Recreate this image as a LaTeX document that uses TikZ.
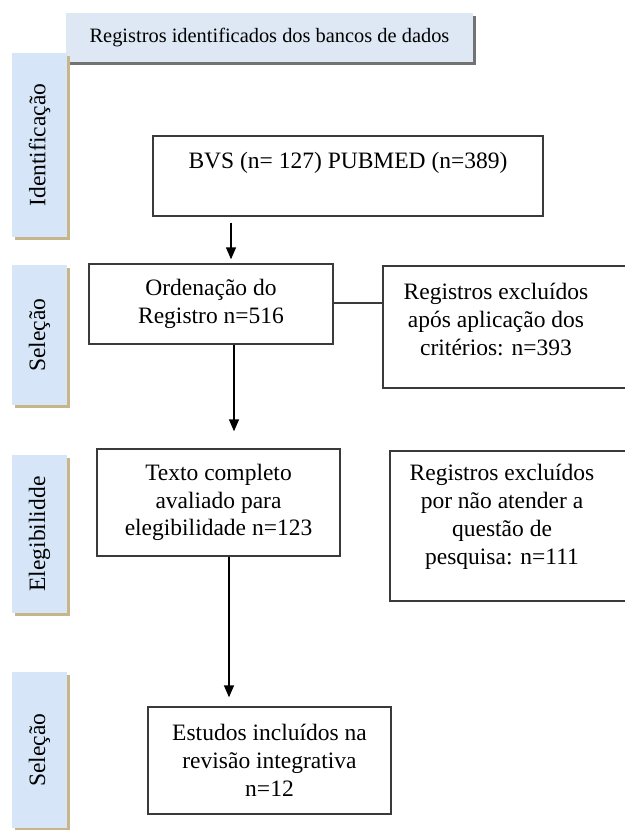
\documentclass[tikz,border=0pt]{standalone}
\usepackage{fontspec}
\setmainfont{Liberation Serif}
\usetikzlibrary{arrows.meta,shadows}
\definecolor{lblfill}{HTML}{D6E6F8}
\definecolor{hdrfill}{HTML}{DDE8F4}
\definecolor{tanshadow}{HTML}{C6B68A}
\definecolor{boxline}{HTML}{3A3A3A}
\begin{document}
\begin{tikzpicture}[x=1pt,y=-1pt,
  bigfont/.style={font=\fontsize{23.5}{27.8}\selectfont},
  box/.style={draw=boxline, line width=1.4pt, inner sep=0pt, align=center, bigfont},
  txt/.style={inner sep=0pt, align=center, bigfont},
  side/.style={fill=lblfill, inner sep=0pt, minimum width=55pt, bigfont,
    drop shadow={shadow xshift=3pt, shadow yshift=-3pt, fill=tanshadow, opacity=1}},
  hdr/.style={fill=hdrfill, inner sep=0pt, minimum width=407pt, minimum height=49pt,
    font=\fontsize{20.4}{24}\selectfont,
    drop shadow={shadow xshift=3pt, shadow yshift=-3pt, fill=black!55, opacity=1}},
  arr/.style={line width=1.5pt, -{Triangle[length=12pt,width=10pt]}}]
\useasboundingbox[fill=white] (0,0) rectangle (624,830);

% header and side labels
\node[hdr] (hdr) at (269.5,37.5) {Registros identificados dos bancos de dados};
\node[side, minimum height=184pt] (lid) at (39.5,145) {\rotatebox{90}{Identificação}};
\node[side, minimum height=140pt] (lsel1) at (39.5,335) {\rotatebox{90}{Seleção}};
\node[side, minimum height=158pt] (lel) at (39.5,534) {\rotatebox{90}{Elegibilidde}};
\node[side, minimum height=156pt] (lsel2) at (39.5,750) {\rotatebox{90}{Seleção}};

% boxes
\node[box, minimum width=390pt, minimum height=80pt] (bvs) at (348,176) {};
\node[txt] (bvst) at (348,163) {BVS (n= 127) PUBMED (n=389)};

\node[box, minimum width=244pt, minimum height=80pt] (ord) at (211,304)
  {Ordenação do\\Registro n=516};

\node[box, minimum width=247pt, minimum height=122pt] (reg1) at (506.5,327) {};
\node[txt] (reg1t) at (496,319.5) {Registros excluídos\\após aplicação dos\\critérios: n=393};

\node[box, minimum width=243pt, minimum height=107pt] (texto) at (218.5,502.5)
  {Texto completo\\avaliado para\\elegibilidade n=123};

\node[box, minimum width=240pt, minimum height=150pt] (reg2) at (510,526) {};
\node[txt] (reg2t) at (502,517) {Registros excluídos\\por não atender a\\questão de\\pesquisa: n=111};

\node[box, minimum width=243pt, minimum height=107pt] (est) at (269.5,760.5)
  {Estudos incluídos na\\revisão integrativa\\n=12};

% connectors
\coordinate (x1) at (231,0);
\coordinate (x2) at (234,0);
\coordinate (x3) at (229,0);
\draw[arr, shorten <=6pt, shorten >=4pt] (x1 |- bvs.south) -- (x1 |- ord.north);
\draw[arr, shorten >=17pt] (x2 |- ord.south) -- (x2 |- texto.north);
\draw[arr, shorten >=9pt] (x3 |- texto.south) -- (x3 |- est.north);
\draw[line width=1.2pt, boxline] (ord.east |- 0,303) -- (reg1.west |- 0,303);
\end{tikzpicture}
\end{document}
